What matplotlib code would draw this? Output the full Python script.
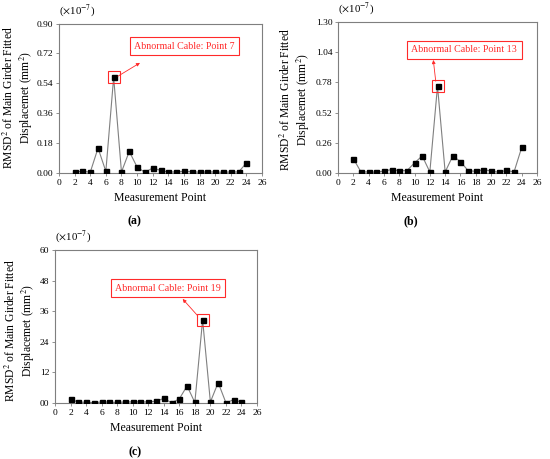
import matplotlib
matplotlib.use("Agg")
import matplotlib.pyplot as plt

plt.rcParams['font.family'] = ['Liberation Serif', 'DejaVu Serif']
plt.rcParams['mathtext.fontset'] = 'stix'

# ---- data ----
x_a = list(range(2, 25))
y_a = [0.004, 0.012, 0.004, 0.150, 0.010, 0.576, 0.006, 0.130, 0.036, 0.004,
       0.030, 0.016, 0.006, 0.006, 0.010, 0.008, 0.004, 0.006, 0.006, 0.004,
       0.006, 0.006, 0.060]

x_b = list(range(2, 25))
y_b = [0.124, 0.009, 0.009, 0.006, 0.017, 0.029, 0.020, 0.020, 0.087, 0.147,
       0.009, 0.748, 0.009, 0.147, 0.098, 0.020, 0.014, 0.029, 0.017, 0.006,
       0.023, 0.009, 0.220]

x_c = list(range(2, 25))
y_c = [1.6, 0.3, 0.3, 0.1, 0.4, 0.3, 0.2, 0.4, 0.4, 0.4, 0.4, 0.7, 1.8, 0.1,
       1.6, 6.7, 0.2, 32.6, 0.4, 8.0, 0.1, 1.3, 0.3]

xticks = list(range(0, 27, 2))
yticks_a = [0.00, 0.18, 0.36, 0.54, 0.72, 0.90]
yticks_b = [0.00, 0.26, 0.52, 0.78, 1.04, 1.30]
yticks_c = [0, 12, 24, 36, 48, 60]
yticklabels_c = ["00", "12", "24", "36", "48", "60"]

ann_text = ["Abnormal Cable: Point 7", "Abnormal Cable: Point 13", "Abnormal Cable: Point 19"]
abnormal_idx = [5, 11, 17]
panel_labels = ["(a)", "(b)", "(c)"]

W, H = 550, 459
fig = plt.figure(figsize=(5.5, 4.59), dpi=100)

def px_axes(l, t, r, b):
    return [l / W, 1 - b / H, (r - l) / W, (b - t) / H]

ax_a = fig.add_axes(px_axes(59, 23.5, 262, 173))
ax_b = fig.add_axes(px_axes(338, 22, 537, 173))
ax_c = fig.add_axes(px_axes(55, 250, 257, 403))

spine_c = '#7f7f7f'
red = '#ff2a2a'

def style(ax, xs, ys, yt, ylabels, fmt, ylab_px):
    ax.plot(xs, ys, color='#808080', lw=0.8, marker='s', ms=3.6,
            mfc='black', mec='black', zorder=3)
    ax.set_xlim(0, 26)
    ax.set_ylim(yt[0], yt[-1])
    ax.set_xticks(xticks)
    ax.set_yticks(yt)
    if ylabels is None:
        ax.set_yticklabels([fmt % v for v in yt])
    else:
        ax.set_yticklabels(ylabels)
    for s in ax.spines.values():
        s.set_color(spine_c)
        s.set_linewidth(0.8)
    ax.tick_params(axis='both', labelsize=6.8, length=2, width=0.6,
                   color=spine_c, pad=2)
    ax.set_xlabel("Measurement Point", fontsize=8.5, labelpad=4)
    fig.text(ylab_px[0] / W, 1 - ylab_px[1] / H,
             "RMSD$^2$ of Main Girder Fitted\nDisplacemet (mm$^2$)",
             fontsize=8.4, linespacing=1.15, rotation=90,
             ha='center', va='center', multialignment='center')
    ax.annotate(r"($\times$10$^{-7}$)", xy=(0, 1), xycoords='axes fraction',
                xytext=(0, 9.5), textcoords='offset points',
                fontsize=7.8, ha='left', va='center')

style(ax_a, x_a, y_a, yticks_a, None, '%.2f', (18, 98))
style(ax_b, x_b, y_b, yticks_b, None, '%.2f', (295.5, 100))
style(ax_c, x_c, y_c, yticks_c, yticklabels_c, '%d', (20.5, 331))

bbox = dict(boxstyle='square,pad=0.45', fc='white', ec=red, lw=0.8)

def mark(ax, xs, ys, i, txt, tx, ty, ax_tip, ay_tip, sx, sy):
    ax.plot([xs[i]], [ys[i]], marker='s', ms=8, mfc='none', mec=red,
            mew=0.8, zorder=4)
    ax.text(tx, ty, txt, color=red, fontsize=7.2, ha='center', va='center',
            bbox=bbox, zorder=5)
    ax.annotate("", xy=(ax_tip, ay_tip), xytext=(sx, sy),
                arrowprops=dict(arrowstyle='-|>', color=red, lw=0.6,
                                mutation_scale=5, shrinkA=0, shrinkB=0),
                zorder=5)

mark(ax_a, x_a, y_a, abnormal_idx[0], ann_text[0], 16.07, 0.764, 10.37, 0.663, 7.56, 0.583)
mark(ax_b, x_b, y_b, abnormal_idx[1], ann_text[1], 16.5, 1.059, 12.45, 0.973, 12.77, 0.79)
mark(ax_c, x_c, y_c, abnormal_idx[2], ann_text[2], 14.55, 45.0, 16.43, 40.8, 18.37, 34.2)

for lab, (px, py) in zip(panel_labels, [(134, 221), (411, 221), (135, 452)]):
    fig.text(px / W, 1 - py / H, lab, fontsize=8.5, fontweight='bold',
             ha='center', va='center')

fig.savefig("out.png", dpi=100)
